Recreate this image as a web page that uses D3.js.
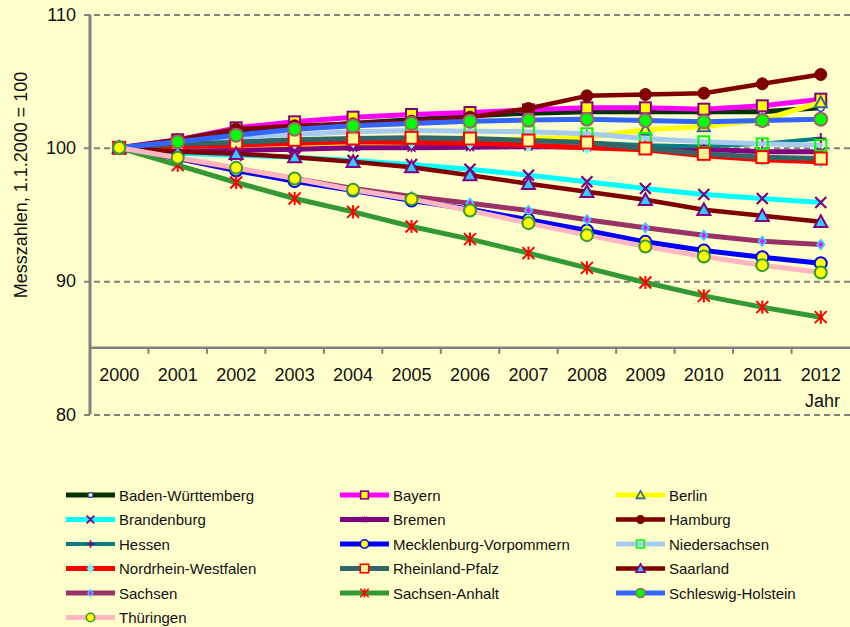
<!DOCTYPE html>
<html>
<head>
<meta charset="utf-8">
<script src="https://cdn.jsdelivr.net/npm/d3@7/dist/d3.min.js"></script>
<style>
  html, body { margin: 0; padding: 0; background: #FFFFCC; }
  svg { display: block; font-family: "Liberation Sans", Arial, sans-serif; }
</style>
</head>
<body>
<svg id="chart" width="850" height="627"></svg>
<script>
// Years on the category axis
const years = ["2000","2001","2002","2003","2004","2005","2006","2007","2008","2009","2010","2011","2012"];
const yTicks = [80, 90, 100, 110];

// Index values per Land (1.1.2000 = 100)
const badenWuerttemberg = [100, 100.5, 101.1, 101.5, 101.85, 102.1, 102.4, 102.6, 102.7, 102.7, 102.7, 102.7, 103.0];
const bayern            = [100, 100.6, 101.5, 101.95, 102.3, 102.5, 102.65, 102.85, 103.0, 103.0, 102.9, 103.15, 103.65];
const berlin            = [100, 99.9, 100.0, 100.1, 100.2, 100.3, 100.5, 100.7, 100.8, 101.35, 101.6, 102.1, 103.4];
const brandenburg       = [100, 99.6, 99.45, 99.3, 99.05, 98.75, 98.4, 97.95, 97.45, 96.95, 96.5, 96.2, 95.9];
const bremen            = [100, 99.75, 99.8, 99.9, 100.0, 100.0, 100.05, 100.1, 100.05, 100.0, 99.9, 99.7, 99.7];
const hamburg           = [100, 100.6, 101.4, 101.65, 101.8, 102.0, 102.3, 102.95, 103.9, 104.0, 104.1, 104.8, 105.5];
const hessen            = [100, 100.3, 100.5, 100.6, 100.6, 100.6, 100.6, 100.5, 100.4, 100.2, 100.1, 100.3, 100.7];
const mecklenburgVorp   = [100, 99.2, 98.3, 97.5, 96.8, 96.05, 95.4, 94.6, 93.8, 92.95, 92.3, 91.8, 91.35];
const niedersachsen     = [100, 100.3, 100.8, 101.0, 101.2, 101.3, 101.25, 101.2, 101.05, 100.7, 100.45, 100.3, 100.2];
const nordrheinWestf    = [100, 100.1, 100.2, 100.35, 100.45, 100.4, 100.35, 100.2, 100.0, 99.85, 99.4, 99.1, 98.95];
const rheinlandPfalz    = [100, 100.3, 100.4, 100.6, 100.7, 100.75, 100.7, 100.55, 100.4, 99.95, 99.55, 99.3, 99.2];
const saarland          = [100, 99.7, 99.55, 99.3, 98.95, 98.55, 97.95, 97.3, 96.7, 96.1, 95.35, 94.9, 94.45];
const sachsen           = [100, 99.2, 98.45, 97.7, 96.95, 96.35, 95.85, 95.3, 94.6, 94.0, 93.45, 93.0, 92.75];
const sachsenAnhalt     = [100, 98.7, 97.4, 96.2, 95.2, 94.1, 93.15, 92.1, 91.0, 89.9, 88.9, 88.05, 87.3];
const schleswigHolstein = [100, 100.45, 100.95, 101.4, 101.65, 101.83, 102.0, 102.08, 102.15, 102.05, 101.95, 102.05, 102.15];
const thueringen        = [100, 99.25, 98.5, 97.7, 96.85, 96.15, 95.3, 94.35, 93.45, 92.6, 91.85, 91.2, 90.65];

const seriesNames = ["Baden-Württemberg","Bayern","Berlin","Brandenburg","Bremen","Hamburg","Hessen",
  "Mecklenburg-Vorpommern","Niedersachsen","Nordrhein-Westfalen","Rheinland-Pfalz","Saarland",
  "Sachsen","Sachsen-Anhalt","Schleswig-Holstein","Thüringen"];
const seriesValues = [badenWuerttemberg, bayern, berlin, brandenburg, bremen, hamburg, hessen,
  mecklenburgVorp, niedersachsen, nordrheinWestf, rheinlandPfalz, saarland,
  sachsen, sachsenAnhalt, schleswigHolstein, thueringen];

// Line and marker styling per series
const styles = [
  {line:"#003300", w:5,   m:"circle",   r:3.5, fill:"#FFFFCC", stroke:"#3333CC", sw:1.5},
  {line:"#FF00FF", w:5,   m:"square",   r:5.5, fill:"#FFFF00", stroke:"#800080", sw:2},
  {line:"#FFFF00", w:5,   m:"triangle", r:6,   fill:"#FFFF00", stroke:"#336699", sw:2},
  {line:"#00FFFF", w:5,   m:"x",        r:5.5, fill:"none",    stroke:"#800080", sw:2.2},
  {line:"#800080", w:5,   m:"star",     r:4,   fill:"none",    stroke:"#800080", sw:1.5},
  {line:"#800000", w:4.5, m:"circle",   r:6,   fill:"#800000", stroke:"#800000", sw:1},
  {line:"#008080", w:4,   m:"plus",     r:5.5, fill:"none",    stroke:"#800080", sw:2},
  {line:"#0000FF", w:5,   m:"circle",   r:6,   fill:"#FFFF00", stroke:"#0000FF", sw:2},
  {line:"#A6CAF0", w:5,   m:"square",   r:5.5, fill:"none",    stroke:"#00FF00", sw:2},
  {line:"#FF0000", w:5,   m:"diamond",  r:6,   fill:"#66FFFF", stroke:"#66FFFF", sw:1},
  {line:"#336666", w:5,   m:"square",   r:6,   fill:"#FFFF99", stroke:"#FF0000", sw:2},
  {line:"#800000", w:4.5, m:"triangle", r:6.5, fill:"#33CCFF", stroke:"#800080", sw:2},
  {line:"#993366", w:5,   m:"diamond2", r:6,   fill:"#FF00FF", stroke:"#33CCFF", sw:2.5},
  {line:"#339933", w:5,   m:"star",     r:6,   fill:"none",    stroke:"#FF0000", sw:2},
  {line:"#3366FF", w:5,   m:"circle",   r:6.5, fill:"#00FF00", stroke:"#996666", sw:2},
  {line:"#FFB6C1", w:5,   m:"circle",   r:6,   fill:"#FFFF00", stroke:"#339933", sw:2}
];

const svg = d3.select("#chart");
const W = 850, H = 627;
svg.append("rect").attr("width", W).attr("height", H).attr("fill", "#FFFFCC");

const x = d3.scaleBand().domain(years).range([90, 850]);
const y = d3.scaleLinear().domain([80, 110]).range([414.5, 14.5]);
const xc = d => x(d) + x.bandwidth() / 2;
const gray = "#808080";

// Horizontal gridlines with left tick marks
const yAxis = d3.axisLeft(y).tickValues(yTicks).tickSize(-(850 - 90)).tickPadding(14).tickFormat(d3.format("d"));
const gy = svg.append("g").attr("transform", "translate(90,0)").call(yAxis);
gy.select(".domain").remove();
gy.selectAll(".tick line")
  .attr("x1", -6)
  .attr("stroke", gray).attr("stroke-width", 2).attr("stroke-dasharray", "6,4");
gy.selectAll(".tick text").attr("font-size", 18).attr("fill", "#111").attr("font-family", "Liberation Sans, Arial, sans-serif");

// Vertical value axis
svg.append("line").attr("x1", 90).attr("x2", 90).attr("y1", y(110)).attr("y2", y(80))
  .attr("stroke", gray).attr("stroke-width", 3);

// Category axis crossing at 85
const yCross = y(85);
svg.append("line").attr("x1", 90).attr("x2", 850).attr("y1", yCross).attr("y2", yCross)
  .attr("stroke", gray).attr("stroke-width", 2.5);
const xAxis = d3.axisBottom(x).tickSize(0).tickPadding(20);
const gx = svg.append("g").attr("transform", `translate(0,${yCross})`).call(xAxis);
gx.select(".domain").remove();
gx.selectAll(".tick text").attr("font-size", 18).attr("fill", "#111").attr("font-family", "Liberation Sans, Arial, sans-serif");
// category boundary ticks
svg.append("g").selectAll("line").data(years.slice(1)).join("line")
  .attr("x1", d => x(d)).attr("x2", d => x(d))
  .attr("y1", yCross).attr("y2", yCross + 6)
  .attr("stroke", gray).attr("stroke-width", 2);

svg.append("text").attr("x", 840).attr("y", 407).attr("text-anchor", "end")
  .attr("font-size", 18).attr("fill", "#111").text("Jahr");

svg.append("text")
  .attr("transform", "translate(27,185) rotate(-90)")
  .attr("text-anchor", "middle").attr("font-size", 18).attr("fill", "#111")
  .text("Messzahlen, 1.1.2000 = 100");

// Marker drawing
function drawMarker(g, st, scale) {
  const r = st.r * scale;
  const sw = st.sw * Math.max(scale, 0.8);
  let p;
  switch (st.m) {
    case "circle":
      g.append("circle").attr("r", r).attr("fill", st.fill).attr("stroke", st.stroke).attr("stroke-width", sw);
      return;
    case "square":
      g.append("rect").attr("x", -r).attr("y", -r).attr("width", 2 * r).attr("height", 2 * r)
        .attr("fill", st.fill).attr("stroke", st.stroke).attr("stroke-width", sw);
      return;
    case "triangle":
      p = `M0,${-r}L${r},${r * 0.8}L${-r},${r * 0.8}Z`;
      g.append("path").attr("d", p).attr("fill", st.fill).attr("stroke", st.stroke).attr("stroke-width", sw).attr("stroke-linejoin", "miter");
      return;
    case "diamond":
      p = `M0,${-r}L${r * 0.8},0L0,${r}L${-r * 0.8},0Z`;
      g.append("path").attr("d", p).attr("fill", st.fill).attr("stroke", st.stroke).attr("stroke-width", sw);
      return;
    case "diamond2":
      p = `M0,${-r}L${r * 0.8},0L0,${r}L${-r * 0.8},0Z`;
      g.append("path").attr("d", p).attr("fill", st.stroke).attr("stroke", "none");
      const r2 = r * 0.5;
      g.append("path").attr("d", `M0,${-r2}L${r2 * 0.8},0L0,${r2}L${-r2 * 0.8},0Z`).attr("fill", st.fill);
      return;
    case "x":
      p = `M${-r},${-r}L${r},${r}M${-r},${r}L${r},${-r}`;
      break;
    case "plus":
      p = `M0,${-r}V${r}M${-r},0H${r}`;
      break;
    case "star":
      p = `M${-r},${-r}L${r},${r}M${-r},${r}L${r},${-r}M0,${-r * 1.1}V${r * 1.1}`;
      break;
  }
  g.append("path").attr("d", p).attr("fill", "none").attr("stroke", st.stroke).attr("stroke-width", sw);
}

// Series lines with markers
const lineGen = d3.line().x((d, i) => xc(years[i])).y(d => y(d));
const plot = svg.append("g");
seriesValues.forEach((vals, si) => {
  const st = styles[si];
  const g = plot.append("g");
  g.append("path").datum(vals).attr("d", lineGen)
    .attr("fill", "none").attr("stroke", st.line).attr("stroke-width", st.w)
    .attr("stroke-linejoin", "round").attr("stroke-linecap", "round");
  vals.forEach((v, i) => {
    const mg = g.append("g").attr("transform", `translate(${xc(years[i])},${y(v)})`);
    drawMarker(mg, st, 1);
  });
});

// Legend, three columns
const legX = [66, 340, 616];
const legY0 = 495, legDy = 24.5;
const legend = svg.append("g");
seriesNames.forEach((name, i) => {
  const col = i % 3, row = Math.floor(i / 3);
  const st = styles[i];
  const gx0 = legX[col], gy0 = legY0 + row * legDy;
  const g = legend.append("g").attr("transform", `translate(${gx0},${gy0})`);
  g.append("line").attr("x1", 0).attr("x2", 49).attr("y1", 0).attr("y2", 0)
    .attr("stroke", st.line).attr("stroke-width", st.w);
  const mg = g.append("g").attr("transform", "translate(24.5,0)");
  drawMarker(mg, st, 0.7);
  g.append("text").attr("x", 53).attr("y", 5.5).attr("font-size", 15).attr("fill", "#111").text(name);
});
</script>
</body>
</html>
